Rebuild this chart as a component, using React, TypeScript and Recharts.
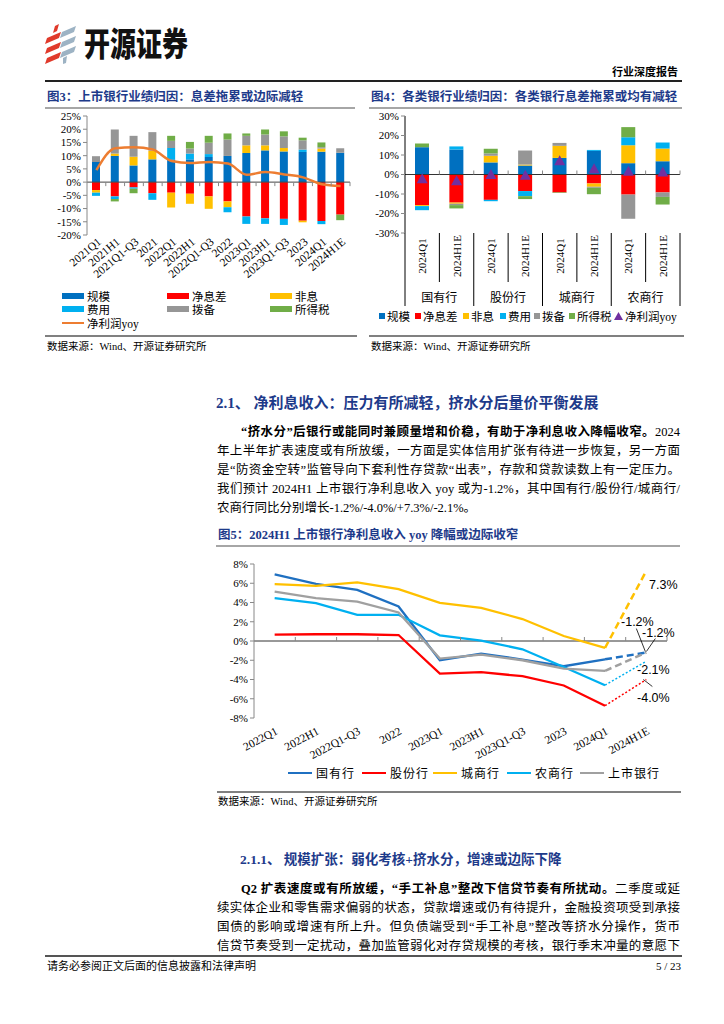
import React from 'react';
import { Bar, ComposedChart, Line, ReferenceLine, XAxis, YAxis } from 'recharts';

// ---- 图3 上市银行业绩归因 ----
const cats3 = ['2021Q1', '2021H1', '2021Q1-Q3', '2021', '2022Q1', '2022H1', '2022Q1-Q3', '2022', '2023Q1', '2023H1', '2023Q1-Q3', '2023', '2024Q1', '2024H1E'];
const scale3 = [7.6, 9.9, 6.3, 8.6, 8.6, 8.6, 9.5, 9.9, 11.0, 12.0, 11.6, 11.4, 11.5, 11.1];
const nim3 = [-3.0, -5.4, -2.0, -4.2, -4.0, -4.4, -5.4, -7.3, -13.0, -13.7, -13.9, -14.6, -14.7, -12.3];
const nonint3 = [-1.0, 0.9, 3.3, 3.3, -5.6, -3.8, -4.7, -2.2, 2.9, 1.9, 1.3, -0.6, 1.2, 0];
const fee3 = [-1.2, -1.0, -0.5, -2.5, 4.3, 2.2, 1.1, -1.9, -2.8, -2.1, -2.3, 0.9, -1.2, 0];
const prov3 = [2.2, 9.1, 7.9, 7.0, 2.7, 1.9, 4.3, 6.2, 3.6, 4.1, 4.4, 3.5, 0.5, 1.7];
const tax3 = [0, -0.9, -1.7, 0, 1.9, 2.5, 2.6, 2.3, 0.9, 1.9, 1.9, 1.0, 1.8, -2.1];
const np3 = [4.5, 12.8, 13.2, 12.3, 8.0, 7.2, 7.6, 7.0, 2.8, 3.8, 2.9, 1.8, -0.8, -1.5];
const ticks3 = [-20, -15, -10, -5, 0, 5, 10, 15, 20, 25];

// ---- 图4 各类银行业绩归因 ----
const groups4 = ['国有行', '股份行', '城商行', '农商行'];
const periods4 = ['2024Q1', '2024H1E'];
const scale4 = [14.0, 12.8, 6.2, 4.6, 8.5, 12.1, 5.8, 6.8];
const nim4 = [-15.7, -14.4, -13.0, -8.5, -9.2, -4.6, -10.3, -9.2];
const nonint4 = [-0.5, -0.6, 3.4, 0.5, 6.2, -1.7, 9.2, 6.5];
const fee4 = [-2.1, 1.6, -0.7, -2.6, 0, 0.5, 4.1, 3.1];
const prov4 = [0, -0.7, 1.2, 7.2, 1.5, -0.5, -12.4, -2.3];
const tax4 = [1.9, -1.7, 2.4, -1.5, -0.3, -3.3, 5.2, -3.9];
const np4 = [-2.4, -3.4, -0.3, -0.7, 6.8, 2.7, 1.4, 1.0];
const ticks4 = [-30, -20, -10, 0, 10, 20, 30];

// ---- 图5 净利息收入 yoy ----
const cats5 = ['2022Q1', '2022H1', '2022Q1-Q3', '2022', '2023Q1', '2023H1', '2023Q1-Q3', '2023', '2024Q1', '2024H1E'];
const state5 = [6.93, 5.93, 5.31, 3.59, -2.0, -1.31, -1.93, -2.62, -1.9, -1.2];
const jsb5 = [0.66, 0.7, 0.7, 0.62, -3.38, -3.24, -3.66, -4.62, -6.72, -4.0];
const city5 = [5.9, 5.72, 6.1, 5.38, 3.97, 3.45, 2.28, 0.52, -0.72, 7.3];
const rural5 = [4.45, 3.93, 2.72, 2.72, 0.59, 0.03, -0.86, -2.7, -4.59, -2.1];
const listed5 = [5.14, 4.45, 4.1, 2.97, -1.83, -1.41, -2.0, -2.86, -3.1, -1.2];
const ticks5 = [-8, -6, -4, -2, 0, 2, 4, 6, 8];

const SERIF = '"Liberation Serif", "Noto Sans CJK SC", serif';
const CJK = '"Noto Sans CJK SC", sans-serif';
const NAVY = '#1D3A8A';

const C = {
  scale: '#0070C0',
  nim: '#FF0000',
  nonint: '#FFC000',
  fee: '#00B0F0',
  prov: '#969696',
  tax: '#70AD47',
  np: '#ED7D31',
  tri: '#7030A0',
};

const STACK = [
  { key: 'scale', name: '规模' },
  { key: 'nim', name: '净息差' },
  { key: 'nonint', name: '非息' },
  { key: 'fee', name: '费用' },
  { key: 'prov', name: '拨备' },
  { key: 'tax', name: '所得税' },
] as const;

const LINES5 = [
  { key: 'state', name: '国有行', color: '#1F70C1', vals: state5, dash: '7 4', w: 2.5 },
  { key: 'jsb', name: '股份行', color: '#FF0000', vals: jsb5, dash: '2 2', w: 1.5 },
  { key: 'city', name: '城商行', color: '#FFC000', vals: city5, dash: '7 4', w: 2.5 },
  { key: 'rural', name: '农商行', color: '#00B0F0', vals: rural5, dash: '2 2', w: 1.5 },
  { key: 'listed', name: '上市银行', color: '#A0A0A0', vals: listed5, dash: '7 4', w: 2.5 },
];

const rows3 = cats3.map((cat, i) => ({
  cat,
  scale: scale3[i],
  nim: nim3[i],
  nonint: nonint3[i],
  fee: fee3[i],
  prov: prov3[i],
  tax: tax3[i],
  np: np3[i],
}));

const rows4 = scale4.map((v, i) => ({
  id: `${groups4[Math.floor(i / 2)]} ${periods4[i % 2]}`,
  scale: v,
  nim: nim4[i],
  nonint: nonint4[i],
  fee: fee4[i],
  prov: prov4[i],
  tax: tax4[i],
  np: np4[i],
}));

const LAST5 = cats5.length - 1;
const rows5 = cats5.map((cat, i) => {
  const r: Record<string, any> = { cat };
  LINES5.forEach((s) => {
    r[s.key] = i < LAST5 ? s.vals[i] : null;
    r[`${s.key}E`] = i >= LAST5 - 1 ? s.vals[i] : null;
  });
  return r;
});

const pct = (v: number) => `${v}%`;
const axisTick = { fontSize: 11, fill: '#000', fontFamily: SERIF };

// plot geometry (px) used to place the small boundary ticks on the zero line
const BAND3 = 263 / 14;
const ZERO3 = (119 * 20) / 45;
const BAND4 = 275 / 8;
const ZERO4 = 117 / 2;
const BAND5 = 413 / 10;
const ZERO5 = 77;

function Tick3(props: any) {
  const { x, y, payload } = props;
  const h = BAND3 / 2;
  return (
    <g>
      <line x1={x + h} x2={x + h} y1={y - ZERO3} y2={y - ZERO3 + 4} stroke="#888" />
      <g transform={`translate(${x + 3},${y + 5}) rotate(-40)`}>
        <text textAnchor="end" dominantBaseline="central" fontSize={11.5} fontFamily={SERIF} fill="#000">
          {payload.value}
        </text>
      </g>
    </g>
  );
}

function Tick4(props: any) {
  const { x, y, index } = props;
  const half = BAND4 / 2;
  const isGroupEnd = index % 2 === 1;
  return (
    <g>
      <line x1={x + half} x2={x + half} y1={y - ZERO4 - 4} y2={y - ZERO4} stroke="#888" />
      <text
        transform={`translate(${x},${y + 23}) rotate(-90)`}
        textAnchor="middle"
        dominantBaseline="central"
        fontSize={11}
        fontFamily={SERIF}
        fill="#000"
      >
        {periods4[index % 2]}
      </text>
      {index === 0 && <line x1={x - half} x2={x - half} y1={y} y2={y + 73} stroke="#000" />}
      <line x1={x + half} x2={x + half} y1={y} y2={y + (isGroupEnd ? 73 : 49)} stroke="#000" />
      {isGroupEnd && (
        <text x={x - half} y={y + 63} textAnchor="middle" dominantBaseline="central" fontSize={12} fontFamily={CJK} fill="#000">
          {groups4[(index - 1) / 2]}
        </text>
      )}
    </g>
  );
}

function Tick5(props: any) {
  const { x, y, payload } = props;
  const h = BAND5 / 2;
  return (
    <g>
      <line x1={x + h} x2={x + h} y1={y - ZERO5 - 4} y2={y - ZERO5} stroke="#888" />
      <g transform={`translate(${x + 2},${y + 12}) rotate(-28)`}>
        <text textAnchor="end" dominantBaseline="central" fontSize={11.5} fontFamily={SERIF} fill="#000">
          {payload.value}
        </text>
      </g>
    </g>
  );
}

// label offsets for the 2024H1E end points
const END5: Record<string, { dx: number; dy: number; lead?: number[] }> = {
  city: { dx: 17, dy: 14 },
  state: { dx: -9, dy: -31, lead: [-10, -24, -1, -1] },
  listed: { dx: 12, dy: -20, lead: [9, -14, 0, -1] },
  rural: { dx: 7, dy: 9 },
  jsb: { dx: 7, dy: 18, lead: [-3, 0, 6, 7] },
};

function endLabel(key: string) {
  return (p: any) => {
    if (p.index !== LAST5 || p.value == null) return <g key={`${key}-${p.index}`} />;
    const o = END5[key];
    return (
      <g key={`${key}-${p.index}`}>
        {o.lead && (
          <line x1={p.x + o.lead[0]} y1={p.y + o.lead[1]} x2={p.x + o.lead[2]} y2={p.y + o.lead[3]} stroke="#000" strokeWidth={0.8} />
        )}
        <text x={p.x + o.dx} y={p.y + o.dy} textAnchor="middle" dominantBaseline="central" fontSize={12.5} fontFamily='"Liberation Sans", sans-serif' fill="#000">
          {`${p.value.toFixed(1)}%`}
        </text>
      </g>
    );
  };
}

function Triangle(p: any) {
  const { cx, cy, index } = p;
  if (cx == null || cy == null) return <g key={`t${index}`} />;
  return <path key={`t${index}`} d={`M${cx},${cy - 6} L${cx + 5.5},${cy + 4} L${cx - 5.5},${cy + 4} Z`} fill={C.tri} />;
}

function Fig3() {
  return (
    <ComposedChart width={315} height={200} data={rows3} stackOffset="sign" margin={{ top: 8, right: 5, left: 0, bottom: 0 }}>
      <XAxis dataKey="cat" interval={0} axisLine={false} tickLine={false} tickSize={0} tickMargin={0} height={73} tick={<Tick3 />} />
      <YAxis
        domain={[-20, 25]}
        ticks={ticks3}
        width={47}
        interval={0}
        tickFormatter={pct}
        tick={axisTick}
        tickSize={4}
        axisLine={{ stroke: '#888' }}
        tickLine={{ stroke: '#888' }}
      />
      {STACK.map((s) => (
        <Bar key={s.key} dataKey={s.key} stackId="a" fill={(C as any)[s.key]} barSize={8} isAnimationActive={false} />
      ))}
      <ReferenceLine y={0} stroke="#444" />
      <Line type="monotone" dataKey="np" stroke={C.np} strokeWidth={2.5} dot={false} isAnimationActive={false} />
    </ComposedChart>
  );
}

function Fig4() {
  return (
    <ComposedChart width={320} height={198} data={rows4} stackOffset="sign" margin={{ top: 8, right: 2, left: 0, bottom: 0 }}>
      <XAxis dataKey="id" interval={0} axisLine={false} tickLine={false} tickSize={0} tickMargin={0} height={73} tick={<Tick4 />} />
      <YAxis
        domain={[-30, 30]}
        ticks={ticks4}
        width={43}
        interval={0}
        tickFormatter={pct}
        tick={axisTick}
        tickSize={4}
        axisLine={{ stroke: '#000' }}
        tickLine={{ stroke: '#888' }}
      />
      {STACK.map((s) => (
        <Bar key={s.key} dataKey={s.key} stackId="a" fill={(C as any)[s.key]} barSize={14} isAnimationActive={false} />
      ))}
      <ReferenceLine y={0} stroke="#333" />
      <Line dataKey="np" stroke="none" dot={<Triangle />} activeDot={false} isAnimationActive={false} />
    </ComposedChart>
  );
}

function Fig5() {
  return (
    <ComposedChart width={500} height={210} data={rows5} margin={{ top: 10, right: 43, left: 0, bottom: 0 }}>
      <XAxis
        dataKey="cat"
        scale="band"
        interval={0}
        axisLine={false}
        tickLine={false}
        tickSize={0}
        tickMargin={0}
        height={46}
        tick={<Tick5 />}
      />
      <YAxis
        domain={[-8, 8]}
        ticks={ticks5}
        width={44}
        interval={0}
        tickFormatter={pct}
        tick={axisTick}
        tickSize={4}
        axisLine={{ stroke: '#888' }}
        tickLine={{ stroke: '#888' }}
      />
      <ReferenceLine y={0} stroke="#333" />
      {LINES5.map((s) => (
        <Line key={s.key} dataKey={s.key} stroke={s.color} strokeWidth={2.3} dot={false} isAnimationActive={false} />
      ))}
      {LINES5.map((s) => (
        <Line
          key={`${s.key}E`}
          dataKey={`${s.key}E`}
          stroke={s.color}
          strokeWidth={s.w}
          strokeDasharray={s.dash}
          dot={false}
          label={endLabel(s.key)}
          isAnimationActive={false}
        />
      ))}
    </ComposedChart>
  );
}

const A = (left: number, top: number, extra: React.CSSProperties = {}): React.CSSProperties => ({
  position: 'absolute',
  left,
  top,
  ...extra,
});

function Title({ x, y, w, text }: { x: number; y: number; w: number; text: string }) {
  return (
    <>
      <div style={A(x, y - 9, { fontFamily: SERIF, fontWeight: 700, fontSize: 12.5, color: NAVY, lineHeight: '18px', whiteSpace: 'nowrap' })}>
        {text}
      </div>
      <div style={A(x - 2, y + 10, { width: w, height: 2, background: '#A6A6A6' })} />
    </>
  );
}

function Source({ x, y }: { x: number; y: number }) {
  return (
    <div style={A(x, y - 8, { fontFamily: SERIF, fontSize: 10.5, lineHeight: '16px', color: '#000', whiteSpace: 'nowrap' })}>
      数据来源：Wind、开源证券研究所
    </div>
  );
}

type TLine = { x: number; y: number; w: number; bold?: string; text: string; last?: boolean };

const para1: TLine[] = [
  { x: 241, y: 432, w: 439, bold: '“挤水分”后银行或能同时兼顾量增和价稳，有助于净利息收入降幅收窄。', text: '2024' },
  { x: 217, y: 451, w: 463, text: '年上半年扩表速度或有所放缓，一方面是实体信用扩张有待进一步恢复，另一方面' },
  { x: 217, y: 470, w: 463, text: '是“防资金空转”监管导向下套利性存贷款“出表”，存款和贷款读数上有一定压力。' },
  { x: 217, y: 489, w: 463, text: '我们预计 2024H1 上市银行净利息收入 yoy 或为-1.2%，其中国有行/股份行/城商行/' },
  { x: 217, y: 508, w: 463, text: '农商行同比分别增长-1.2%/-4.0%/+7.3%/-2.1%。', last: true },
];

const para2: TLine[] = [
  { x: 241, y: 889, w: 439, bold: 'Q2 扩表速度或有所放缓，“手工补息”整改下信贷节奏有所扰动。', text: '二季度或延' },
  { x: 217, y: 908, w: 463, text: '续实体企业和零售需求偏弱的状态，贷款增速或仍有待提升，金融投资项受到承接' },
  { x: 217, y: 927, w: 463, text: '国债的影响或增速有所上升。但负债端受到“手工补息”整改等挤水分操作，货币' },
  { x: 217, y: 946, w: 463, text: '信贷节奏受到一定扰动，叠加监管弱化对存贷规模的考核，银行季末冲量的意愿下' },
];

function TextLines({ lines }: { lines: TLine[] }) {
  return (
    <>
      {lines.map((l, i) => (
        <div
          key={i}
          style={A(l.x, l.y - 9.5, {
            width: l.w,
            fontFamily: SERIF,
            fontSize: 12.5,
            lineHeight: '19px',
            color: '#000',
            whiteSpace: 'nowrap',
            textAlign: 'justify',
            textAlignLast: l.last ? 'left' : 'justify',
          })}
        >
          {l.bold && <b>{l.bold}</b>}
          {l.text}
        </div>
      ))}
    </>
  );
}

function Legend3() {
  const items = [...STACK.map((s) => ({ name: s.name, color: (C as any)[s.key], line: false })), { name: '净利润yoy', color: C.np, line: true }];
  const cols = [62, 167, 270];
  const rowsY = [296, 309, 323];
  return (
    <>
      {items.map((it, i) => (
        <div key={it.name} style={A(cols[i % 3], rowsY[Math.floor(i / 3)] - 7, { display: 'flex', alignItems: 'center', height: 14 })}>
          <span style={{ display: 'inline-block', width: 22, height: it.line ? 2 : 6, background: it.color, marginRight: 3 }} />
          <span style={{ fontFamily: SERIF, fontSize: 11.5, color: '#000', whiteSpace: 'nowrap' }}>{it.name}</span>
        </div>
      ))}
    </>
  );
}

function Legend4() {
  const xs = [379, 415, 463, 500, 534, 569];
  return (
    <>
      {STACK.map((s, i) => (
        <div key={s.key} style={A(xs[i], 309, { display: 'flex', alignItems: 'center', height: 14 })}>
          <span style={{ display: 'inline-block', width: 6, height: 6, background: (C as any)[s.key], marginRight: 2 }} />
          <span style={{ fontFamily: SERIF, fontSize: 11.5, color: '#000', whiteSpace: 'nowrap' }}>{s.name}</span>
        </div>
      ))}
      <div style={A(614, 309, { display: 'flex', alignItems: 'center', height: 14 })}>
        <svg width={9} height={8} style={{ marginRight: 2 }}>
          <path d="M4.5,0 L9,8 L0,8 Z" fill={C.tri} />
        </svg>
        <span style={{ fontFamily: SERIF, fontSize: 11.5, color: '#000', whiteSpace: 'nowrap' }}>净利润yoy</span>
      </div>
    </>
  );
}

function Legend5() {
  const xs = [288, 362, 433, 507, 580];
  return (
    <>
      {LINES5.map((s, i) => (
        <div key={s.key} style={A(xs[i], 766, { display: 'flex', alignItems: 'center', height: 14 })}>
          <span style={{ display: 'inline-block', width: 24, height: 2.5, background: s.color, marginRight: 4 }} />
          <span style={{ fontFamily: SERIF, fontSize: 12, color: '#000', whiteSpace: 'nowrap', letterSpacing: 1 }}>{s.name}</span>
        </div>
      ))}
    </>
  );
}

function Logo() {
  return (
    <svg width={32} height={40} style={A(45, 24)}>
      <path d="M10,2 L14,0 L12,7 L8,9 Z" fill="#E03A2B" />
      <path d="M2,14 L16,8 L14,14 L0,20 Z" fill="#E03A2B" />
      <path d="M2,24 L16,18 L14,24 L0,30 Z" fill="#E03A2B" />
      <path d="M2,34 L16,28 L14,34 L0,40 Z" fill="#E03A2B" />
      <path d="M17,8 L31,2 L29,8 L15,14 Z" fill="#9DB3C4" />
      <path d="M17,18 L31,12 L29,18 L15,24 Z" fill="#9DB3C4" />
      <path d="M17,28 L31,22 L29,28 L15,34 Z" fill="#9DB3C4" />
      <path d="M18,34 L22,32 L21,39 L18,40 Z" fill="#9DB3C4" />
    </svg>
  );
}

export default function App() {
  return (
    <div style={{ position: 'absolute', left: 0, top: 0, width: 724, height: 1024, background: '#fff', overflow: 'hidden' }}>
      {/* header */}
      <Logo />
      <div
        style={A(84, 25, {
          fontFamily: CJK,
          fontWeight: 900,
          fontSize: 26,
          lineHeight: '28px',
          color: '#111',
          transform: 'scale(1, 1.25)',
          transformOrigin: 'left top',
          whiteSpace: 'nowrap',
        })}
      >
        开源证券
      </div>
      <div style={A(612, 65, { fontFamily: SERIF, fontWeight: 700, fontSize: 11, lineHeight: '14px', color: '#000' })}>行业深度报告</div>
      <div style={A(45, 80, { width: 637, height: 2, background: '#222' })} />

      {/* fig 3 & 4 */}
      <Title x={47} y={97} w={310} text="图3：上市银行业绩归因：息差拖累或边际减轻" />
      <Title x={371} y={97} w={313} text="图4：各类银行业绩归因：各类银行息差拖累或均有减轻" />
      <div style={A(40, 108)}>
        <Fig3 />
      </div>
      <div style={A(362, 108)}>
        <Fig4 />
      </div>
      <Legend3 />
      <Legend4 />
      <div style={A(45, 335, { width: 312, height: 2, background: '#808080' })} />
      <div style={A(369, 335, { width: 315, height: 2, background: '#808080' })} />
      <Source x={47} y={347} />
      <Source x={371} y={347} />

      {/* section 2.1 */}
      <div style={A(216, 393, { fontFamily: SERIF, fontWeight: 700, fontSize: 15, lineHeight: '20px', color: NAVY, whiteSpace: 'nowrap' })}>
        2.1、 净利息收入：压力有所减轻，挤水分后量价平衡发展
      </div>
      <TextLines lines={para1} />

      {/* fig 5 */}
      <Title x={218} y={535} w={464} text="图5：2024H1 上市银行净利息收入 yoy 降幅或边际收窄" />
      <div style={A(210, 554)}>
        <Fig5 />
      </div>
      <Legend5 />
      <div style={A(217, 791, { width: 464, height: 2, background: '#808080' })} />
      <Source x={218} y={802} />

      {/* section 2.1.1 */}
      <div style={A(240, 851, { fontFamily: SERIF, fontWeight: 700, fontSize: 13.5, lineHeight: '18px', color: NAVY, whiteSpace: 'nowrap' })}>
        2.1.1、 规模扩张：弱化考核+挤水分，增速或边际下降
      </div>
      <TextLines lines={para2} />

      {/* footer */}
      <div style={A(45, 955, { width: 637, height: 2, background: '#555' })} />
      <div style={A(47, 958, { fontFamily: SERIF, fontSize: 11, lineHeight: '16px', color: '#000' })}>请务必参阅正文后面的信息披露和法律声明</div>
      <div style={A(600, 958, { width: 81, textAlign: 'right', fontFamily: SERIF, fontSize: 11, lineHeight: '16px', color: '#000' })}>5 / 23</div>
    </div>
  );
}
